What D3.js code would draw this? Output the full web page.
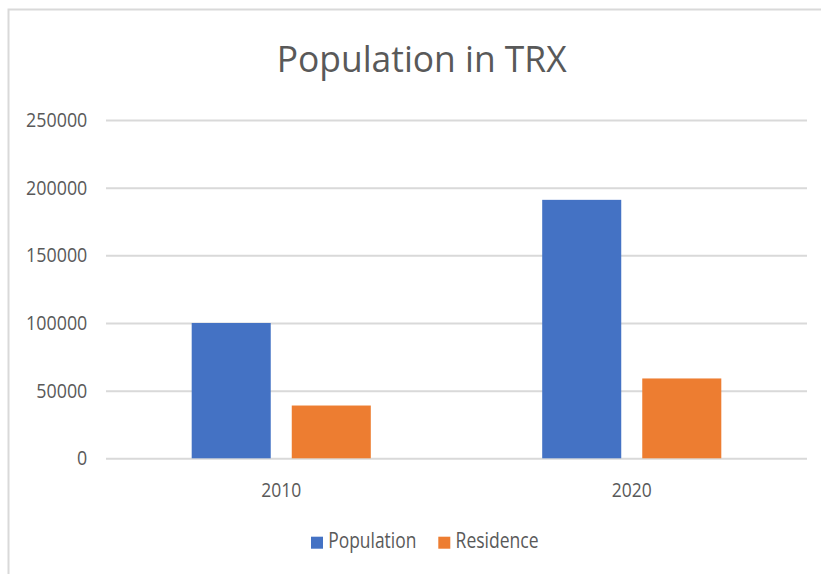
<!DOCTYPE html>
<html>
<head>
<meta charset="utf-8">
<script src="https://cdn.jsdelivr.net/npm/d3@7/dist/d3.min.js"></script>
<style>
  html, body { margin: 0; padding: 0; background: #fff; }
  svg { display: block; }
  text { font-family: "Open Sans", "Noto Sans", sans-serif; fill: #595959; }
</style>
</head>
<body>
<svg id="chart" width="821" height="574"></svg>
<script>
const title = "Population in TRX";
const categories = ["2010", "2020"];
const seriesNames = ["Population", "Residence"];
const populationValues = [100000, 191000];
const residenceValues = [39000, 59000];
const yTicks = [0, 50000, 100000, 150000, 200000, 250000];
const colors = ["#4472C4", "#ED7D31"];

const svg = d3.select("#chart");
const W = 821, H = 574;
const plot = { left: 106, right: 807, top: 120, bottom: 458.3 };

// chart area border (top and left visible)
svg.append("rect")
  .attr("x", 8.5).attr("y", 9.5)
  .attr("width", 830).attr("height", 600)
  .attr("fill", "#fff")
  .attr("stroke", "#d9d9d9").attr("stroke-width", 2);

// title
svg.append("text")
  .attr("x", 421.7).attr("y", 71.7)
  .attr("text-anchor", "middle")
  .attr("font-size", 37)
  .attr("textLength", 290)
  .attr("lengthAdjust", "spacingAndGlyphs")
  .text(title);

const y = d3.scaleLinear().domain([0, 250000]).range([plot.bottom, plot.top]);
const x0 = d3.scaleBand().domain(categories).range([plot.left, plot.right])
  .paddingInner(0.489).paddingOuter(0.2445);
const x1 = d3.scaleBand().domain(seriesNames).range([0, x0.bandwidth()])
  .paddingInner(0.21).paddingOuter(0);

// y axis with gridlines
const yAxis = d3.axisLeft(y).tickValues(yTicks)
  .tickSizeInner(-(plot.right - plot.left)).tickSizeOuter(0).tickPadding(18.7)
  .tickFormat(d3.format("d"));
const gy = svg.append("g").attr("transform", `translate(${plot.left},0)`).call(yAxis);
gy.select(".domain").remove();
gy.selectAll(".tick line").attr("stroke", "#d9d9d9").attr("stroke-width", 2);
gy.selectAll(".tick text")
  .attr("font-size", 20)
  .attr("fill", "#595959")
  .style("font-family", '"Open Sans", "Noto Sans", sans-serif')
  .each(function(d) {
    const s = d3.format("d")(d);
    d3.select(this).attr("textLength", s.length * 10.2).attr("lengthAdjust", "spacingAndGlyphs");
  });

// bars
const data = categories.map((c, i) => ({
  category: c,
  values: [
    { name: seriesNames[0], value: populationValues[i] },
    { name: seriesNames[1], value: residenceValues[i] }
  ]
}));
const groups = svg.append("g").selectAll("g").data(data).join("g")
  .attr("transform", d => `translate(${x0(d.category)},0)`);
groups.selectAll("rect").data(d => d.values).join("rect")
  .attr("x", d => x1(d.name))
  .attr("y", d => y(d.value))
  .attr("width", x1.bandwidth())
  .attr("height", d => y(0) - y(d.value))
  .attr("fill", (d, i) => colors[i]);

// x axis labels
const xAxis = d3.axisBottom(x0).tickSize(0).tickPadding(0);
const gx = svg.append("g").attr("transform", `translate(0,${plot.bottom})`).call(xAxis);
gx.select(".domain").remove();
gx.selectAll(".tick text")
  .attr("y", 38.4).attr("dy", 0)
  .attr("font-size", 20)
  .attr("fill", "#595959")
  .style("font-family", '"Open Sans", "Noto Sans", sans-serif')
  .attr("textLength", 40).attr("lengthAdjust", "spacingAndGlyphs");

// legend
const legendX = [311, 438.3];
const legendW = [88, 83];
const lg = svg.append("g").selectAll("g").data(seriesNames).join("g")
  .attr("transform", (d, i) => `translate(${legendX[i]},536.7)`);
lg.append("rect").attr("width", 12).attr("height", 12).attr("fill", (d, i) => colors[i]);
lg.append("text")
  .attr("x", 17.3).attr("y", 11.5)
  .attr("font-size", 21)
  .attr("textLength", (d, i) => legendW[i])
  .attr("lengthAdjust", "spacingAndGlyphs")
  .text(d => d);
</script>
</body>
</html>
